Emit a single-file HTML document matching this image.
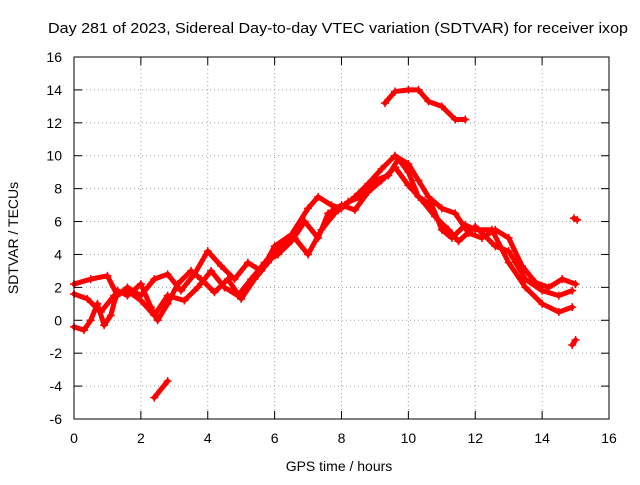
<!DOCTYPE html>
<html><head><meta charset="utf-8"><style>
body{margin:0;background:#fff}
svg{font-family:"Liberation Sans",sans-serif;font-size:14px}
</style></head><body>
<svg id="chart" width="640" height="480">
<text x="48" y="33" textLength="580" lengthAdjust="spacingAndGlyphs" style="font-size:15px">Day 281 of 2023, Sidereal Day-to-day VTEC variation (SDTVAR) for receiver ixop</text>
<text x="339" y="471" text-anchor="middle">GPS time / hours</text>
<text x="0" y="0" transform="translate(18,238) rotate(-90)" text-anchor="middle">SDTVAR / TECUs</text>
<g id="grid"></g><g id="ticks"></g><g id="plot"></g>
<rect x="74" y="57" width="535" height="362" fill="none" stroke="#000"/>
</svg>
<script>
const xTicks=[0,2,4,6,8,10,12,14,16];
const yTicks=[-6,-4,-2,0,2,4,6,8,10,12,14,16];
const s1=[[0,-0.4],[0.3,-0.6],[0.5,0],[0.7,1],[0.9,-0.3],[1.1,0.3],[1.3,1.8],[1.6,1.5],[2,2.2],[2.3,0.8],[2.5,0],[2.8,1],[3.1,2.2],[3.5,3],[3.8,2.5],[4.2,1.7],[4.6,2.5],[5,1.3],[5.4,2.5],[5.8,3.5],[6.2,4.5],[6.6,5],[7,4],[7.4,5.5],[7.8,6.5],[8.2,7.2],[8.6,7.5],[9,8.5],[9.4,8.8],[9.7,9.8],[10,9],[10.3,7.5],[10.7,7],[11,5.5],[11.3,5],[11.7,5.8],[12,5.5],[12.5,5.5],[13,3.5],[13.5,2],[14,1],[14.5,0.5],[14.9,0.8]];
const s2=[[0,2.2],[0.5,2.5],[1,2.7],[1.3,1.5],[1.6,2],[2,1.5],[2.4,2.5],[2.8,2.8],[3.2,1.8],[3.6,2.8],[4,4.2],[4.4,3.3],[4.8,2.5],[5.2,3.5],[5.6,3],[6,4.5],[6.5,5.2],[7,6.8],[7.3,7.5],[7.7,7],[8,6.8],[8.4,7.5],[8.8,8.3],[9.2,9.2],[9.6,10],[10,9.5],[10.3,8.5],[10.6,7.5],[11,6.8],[11.4,6.5],[11.8,5.3],[12.2,5],[12.6,5.5],[13,5],[13.4,3.3],[13.8,2.3],[14.2,2],[14.6,2.5],[15,2.2]];
const s3=[[0,1.6],[0.4,1.3],[0.8,0.5],[1.2,1.5],[1.6,1.8],[2,1.2],[2.4,0.3],[2.8,1.5],[3.3,1.2],[3.7,2],[4.1,3],[4.5,2],[4.9,1.5],[5.3,2.5],[5.7,3.5],[6.1,4],[6.5,4.8],[6.9,6],[7.3,5],[7.6,6.5],[8,7],[8.4,6.7],[8.8,7.8],[9.2,8.5],[9.6,9.3],[10,8.2],[10.4,7.3],[10.8,6.3],[11.2,5.5],[11.5,4.8],[12,5.7],[12.6,4.5],[13,4.2],[13.5,2.5],[14,1.8],[14.5,1.5],[14.9,1.8]];
const s4=[[9.3,13.2],[9.6,13.9],[10,14],[10.3,14],[10.6,13.3],[11,13],[11.4,12.2],[11.7,12.2]];
const s5=[[2.4,-4.7],[2.8,-3.7]];
const s6=[[14.9,-1.5],[15,-1.2]];
const s7=[[14.95,6.2],[15.05,6.1]];
const series=[s1,s2,s3,s4,s5,s6,s7];
const X=v=>74+v*535/16, Y=v=>419-(v+6)*362/22;
const NS="http://www.w3.org/2000/svg";
function mk(t,a,p){const e=document.createElementNS(NS,t);for(const k in a)e.setAttribute(k,a[k]);p.appendChild(e);return e;}
const grid=document.getElementById('grid'),ticks=document.getElementById('ticks'),plot=document.getElementById('plot');
xTicks.forEach(v=>{const x=X(v);
 if(v>0&&v<16){const g=mk('line',{x1:x,x2:x,y1:57,y2:419,stroke:'#a0a0a0','stroke-dasharray':'1,3'},grid);
 }
 mk('line',{x1:x,x2:x,y1:419,y2:411,stroke:'#000'},ticks);mk('line',{x1:x,x2:x,y1:57,y2:65,stroke:'#000'},ticks);
 const t=mk('text',{x:x,y:443,'text-anchor':'middle'},ticks);t.textContent=v;
 });
yTicks.forEach(v=>{const y=Y(v);
 if(v>-6&&v<16){const g=mk('line',{x1:74,x2:609,y1:y,y2:y,stroke:'#a0a0a0','stroke-dasharray':'1,3'},grid);
 }
 mk('line',{x1:74,x2:82,y1:y,y2:y,stroke:'#000'},ticks);mk('line',{x1:609,x2:601,y1:y,y2:y,stroke:'#000'},ticks);
 const t=mk('text',{x:62,y:y+5,'text-anchor':'end'},ticks);t.textContent=v;
 });
series.forEach((s,i)=>{
 const p=mk('polyline',{points:s.map(d=>X(d[0])+','+Y(d[1])).join(' '),fill:'none',stroke:'#f00','stroke-width':5,'stroke-linejoin':'round','stroke-linecap':'round'},plot);
 
 
 s.forEach(d=>{const x=X(d[0]),y=Y(d[1]);
  const m=mk('path',{d:`M${x-4},${y}H${x+4}M${x},${y-4}V${y+4}`,stroke:'#f00','stroke-width':1.5},plot);
  
  });
});
</script>
</body></html>
